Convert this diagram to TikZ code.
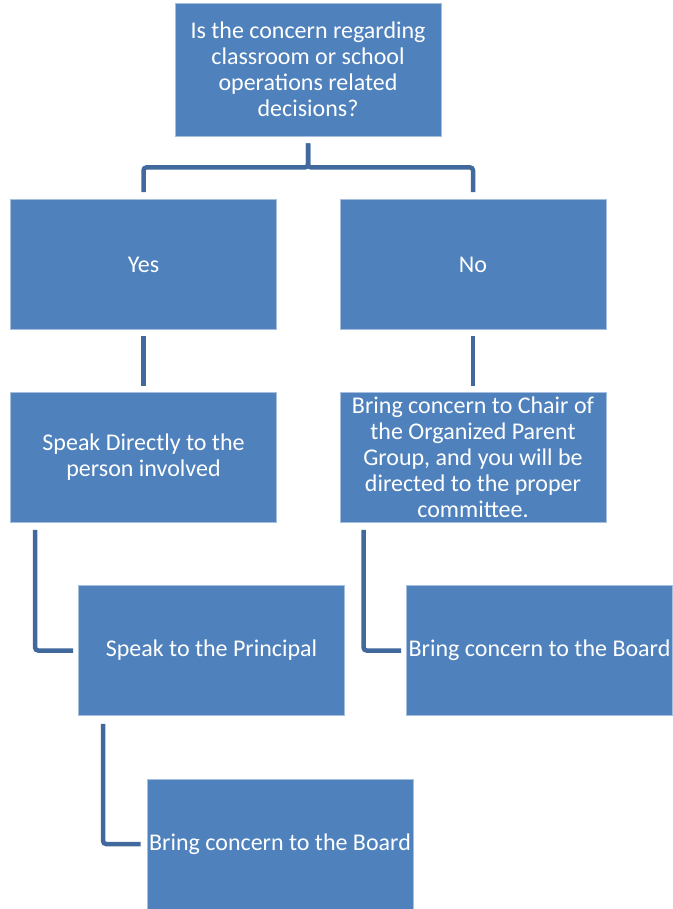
\documentclass[tikz,border=0pt]{standalone}
\usepackage{fontspec}
\setmainfont{Carlito}
\usepackage{tikz}

\definecolor{boxblue}{RGB}{79,129,189}
\definecolor{boxedge}{RGB}{167,191,222}
\definecolor{linkblue}{RGB}{65,105,157}

\begin{document}
\begin{tikzpicture}[x=1pt,y=-1pt,
		box/.style={fill=boxblue, draw=boxedge, line width=0.8pt,
			minimum width=266pt, minimum height=130pt, inner sep=0pt,
			text=white, align=center, font=\fontsize{24}{26}\selectfont},
		link/.style={draw=linkblue, line width=4.5pt, rounded corners=3pt}]
		
		\useasboundingbox (0,0) rectangle (672,909);
		
		\node[box, minimum height=133pt] (Question) at (308,69.5)
			{Is the concern regarding\\classroom or school\\operations related\\decisions?};
		\node[box] (Yes) at (143.5,264.5) {Yes};
		\node[box] (No) at (473,264.5) {No};
		\node[box] (Direct) at (143.5,457.5) {Speak Directly to the\\person involved};
		\node[box] (Chair) at (473,457.5)
			{Bring concern to Chair of\\the Organized Parent\\Group, and you will be\\directed to the proper\\committee.};
		\node[box] (Principal) at (211.5,650.5) {Speak to the Principal};
		\node[box] (BoardNo) at (539.5,650.5) {Bring concern to the Board};
		\node[box] (BoardYes) at (280,844) {Bring concern to the Board};
		
		\draw[link] ([yshift=-7pt]Question.south) -- ++(0,24) -| ([yshift=7pt]Yes.north);
		\draw[link] ([yshift=-7pt]Question.south) -- ++(0,24) -| ([yshift=7pt]No.north);
		\draw[link] ([yshift=-6pt]Yes.south) -- ([yshift=6pt]Direct.north);
		\draw[link] ([yshift=-6pt]No.south) -- ([yshift=6pt]Chair.north);
		\draw[link] ([shift={(25pt,-7pt)}]Direct.south west) |- ([xshift=-5pt]Principal.west);
		\draw[link] ([shift={(24pt,-7pt)}]Chair.south west) |- ([xshift=-5pt]BoardNo.west);
		\draw[link] ([shift={(25pt,-8pt)}]Principal.south west) |- ([xshift=-6pt]BoardYes.west);
		
	\end{tikzpicture}
\end{document}
